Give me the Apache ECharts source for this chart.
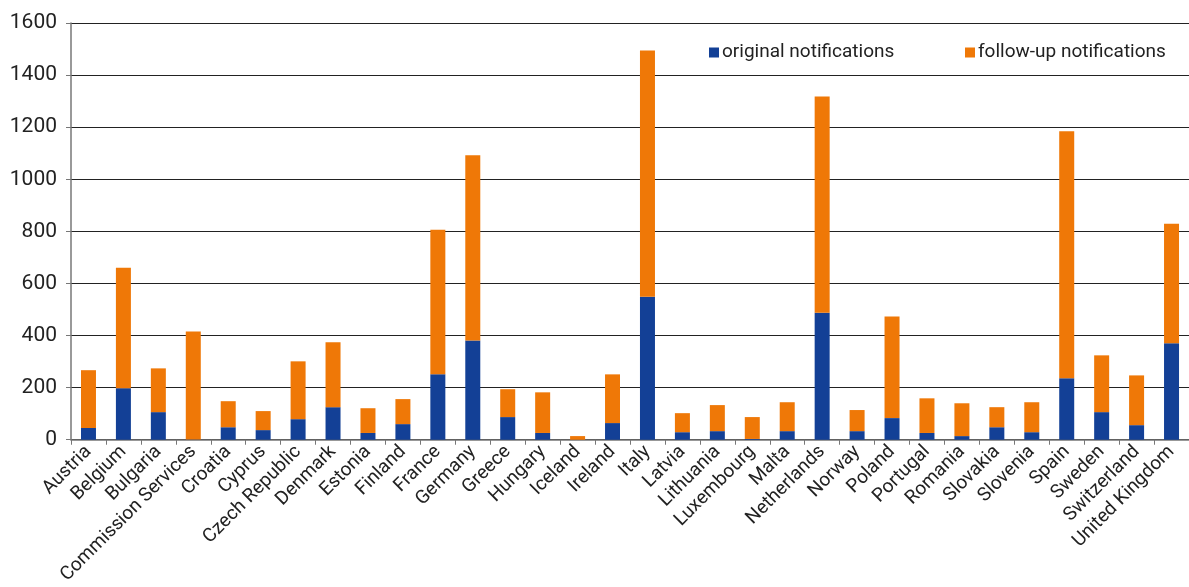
<!DOCTYPE html>
<html>
<head>
<meta charset="utf-8">
<script src="https://cdn.jsdelivr.net/npm/echarts@6/dist/echarts.min.js"></script>
<style>
html,body{margin:0;padding:0;background:#fff;overflow:hidden;}
#chart{width:1189px;height:587px;}
</style>
</head>
<body>
<div id="chart"></div>
<script>
const categories = ["Austria","Belgium","Bulgaria","Commission Services","Croatia","Cyprus","Czech Republic","Denmark","Estonia","Finland","France","Germany","Greece","Hungary","Iceland","Ireland","Italy","Latvia","Lithuania","Luxembourg","Malta","Netherlands","Norway","Poland","Portugal","Romania","Slovakia","Slovenia","Spain","Sweden","Switzerland","United Kingdom"];
const originalNotifications = [45,198,106,1,48,37,79,125,26,60,251,381,87,26,0,64,549,29,33,3,33,488,33,83,26,14,48,29,236,106,56,370];
const followUpNotifications = [222,462,168,415,100,73,222,249,95,96,555,711,107,156,14,187,945,73,100,84,111,830,81,390,133,126,77,115,948,218,191,459];
const yTicks = {min:0, max:1600, interval:200};

const chart = echarts.init(document.getElementById('chart'));
const font = 'Roboto, "Noto Sans", sans-serif';
const legendText = {fontSize:19, color:'#222', fontFamily:font, padding:[0,0,0,-2]};
chart.setOption({
  animation:false,
  textStyle:{fontFamily:font},
  grid:{left:71, right:-12, top:23, bottom:145},
  legend:[
    {left:704, top:38, icon:'rect', itemWidth:10, itemHeight:10, textStyle:legendText, data:['original notifications']},
    {left:960, top:38, icon:'rect', itemWidth:10, itemHeight:10, textStyle:legendText, data:['follow-up notifications']}
  ],
  xAxis:{
    type:'category', data:categories,
    axisLine:{lineStyle:{color:'#777', width:1.5}},
    axisTick:{show:true, length:5, lineStyle:{color:'#777'}},
    axisLabel:{rotate:45, fontSize:19, color:'#222', margin:9, interval:0, fontFamily:font}
  },
  yAxis:{
    type:'value', min:yTicks.min, max:yTicks.max, interval:yTicks.interval,
    axisLine:{show:true, lineStyle:{color:'#777', width:1.5}},
    axisTick:{show:true, length:5, lineStyle:{color:'#777'}},
    axisLabel:{fontSize:21, color:'#222', margin:14, fontFamily:font, formatter:function(v){return String(v);}},
    splitLine:{lineStyle:{color:'#222', width:1.2}}
  },
  series:[
    {name:'original notifications', type:'bar', stack:'n', data:originalNotifications, barWidth:15, itemStyle:{color:'#134096'}},
    {name:'follow-up notifications', type:'bar', stack:'n', data:followUpNotifications, barWidth:15, itemStyle:{color:'#EF7807'}}
  ]
});
</script>
</body>
</html>
